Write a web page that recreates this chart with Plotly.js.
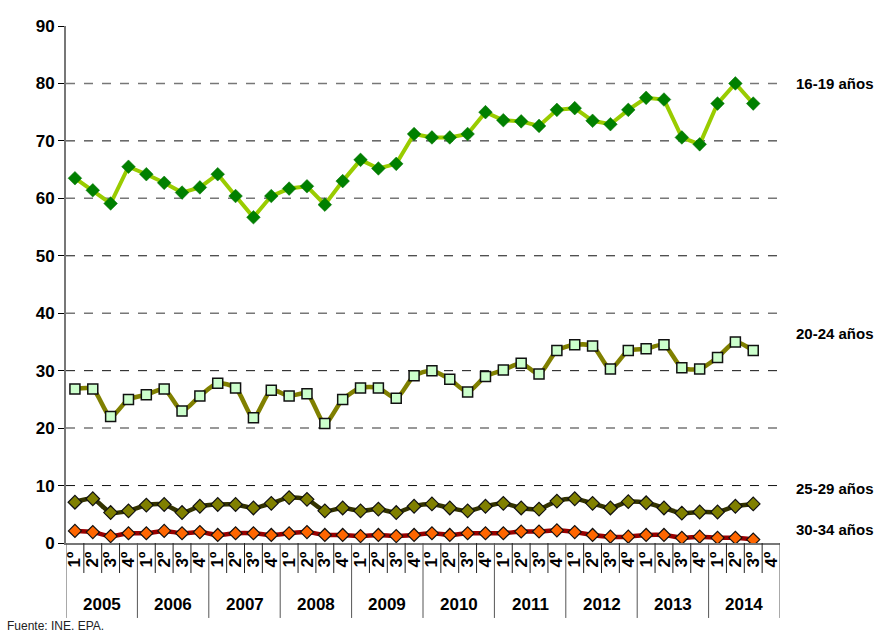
<!DOCTYPE html>
<html>
<head>
<meta charset="utf-8">
<script src="https://cdn.plot.ly/plotly-3.0.1.min.js"></script>
<style>
html,body{margin:0;padding:0;background:#fff;}
#chart{width:893px;height:635px;}
</style>
</head>
<body>
<div id="chart"></div>
<script>
const years = ["2005","2006","2007","2008","2009","2010","2011","2012","2013","2014"];
const quarters = ["1º","2º","3º","4º"];
const seriesNames = ["16-19 años","20-24 años","25-29 años","30-34 años"];

const s1619 = [63.5,61.4,59.1,65.5,64.2,62.7,61.0,61.9,64.2,60.4,56.7,60.4,61.7,62.1,58.9,63.0,66.7,65.2,66.0,71.2,70.6,70.6,71.2,75.0,73.6,73.4,72.6,75.4,75.7,73.5,72.9,75.4,77.5,77.2,70.6,69.4,76.5,80.0,76.5];
const s2024 = [26.8,26.8,22.0,25.0,25.8,26.8,23.0,25.6,27.8,27.0,21.8,26.6,25.6,26.0,20.8,25.0,27.0,27.0,25.2,29.1,30.0,28.5,26.3,29.0,30.1,31.3,29.4,33.5,34.5,34.3,30.3,33.5,33.8,34.5,30.5,30.3,32.3,35.0,33.5];
const s2529 = [7.1,7.7,5.3,5.6,6.6,6.7,5.3,6.4,6.7,6.7,6.1,6.9,7.9,7.6,5.6,6.1,5.6,5.9,5.3,6.4,6.8,6.1,5.6,6.4,6.9,6.1,5.9,7.3,7.7,6.9,6.1,7.2,7.0,6.1,5.2,5.4,5.4,6.4,6.8];
const s3034 = [2.1,1.9,1.2,1.7,1.7,2.1,1.7,1.9,1.4,1.7,1.7,1.4,1.7,1.9,1.4,1.4,1.2,1.4,1.2,1.4,1.7,1.4,1.7,1.7,1.7,2.0,2.0,2.2,1.9,1.4,1.1,1.1,1.4,1.4,0.9,1.1,0.9,0.9,0.6];
const labelY = [80, 36.5, 9.5, 2.3];
const yTicks = [0,10,20,30,40,50,60,70,80,90];

const nCat = years.length * quarters.length;
const catIdx = Array.from({length: nCat}, (_, i) => i);
const catText = catIdx.map(i => "<b>" + quarters[i % 4] + "</b>");
const idx = arr => arr.map((_, i) => i);

const FONT = "Liberation Sans, Arial, sans-serif";

const traces = [
  {x: idx(s1619), y: s1619, name: seriesNames[0], mode: "lines+markers",
   line: {color: "#99cc00", width: 4},
   marker: {symbol: "diamond", size: 10.5, color: "#008000", line: {color: "#007000", width: 0.5}}},
  {x: idx(s2024), y: s2024, name: seriesNames[1], mode: "lines+markers",
   line: {color: "#808000", width: 4.5, shape: "spline", smoothing: 0.7},
   marker: {symbol: "square", size: 10, color: "#ccffcc", line: {color: "#111", width: 1.5}}},
  {x: idx(s2529), y: s2529, name: seriesNames[2], mode: "lines+markers",
   line: {color: "#333300", width: 4.5, shape: "spline", smoothing: 0.7},
   marker: {symbol: "diamond", size: 10.5, color: "#808000", line: {color: "#111", width: 1.2}}},
  {x: idx(s3034), y: s3034, name: seriesNames[3], mode: "lines+markers",
   line: {color: "#990000", width: 4.5, shape: "spline", smoothing: 0.7},
   marker: {symbol: "diamond", size: 10, color: "#ff6600", line: {color: "#111", width: 1.2}}}
];

const shapes = [];
yTicks.filter(v => v > 0 && v < 90).forEach((v, k) => {
  shapes.push({type: "line", xref: "paper", yref: "y", x0: 0, x1: 1, y0: v, y1: v,
    line: {color: (k % 2 === 0) ? "#111" : "#777", width: (k % 2 === 0) ? 1 : 1.5, dash: "dash"}, layer: "below"});
});
for (let i = 0; i <= nCat; i++) {
  const isYear = (i % 4 === 0);
  shapes.push({type: "line", xref: "x", yref: "paper", x0: i - 0.5, x1: i - 0.5,
    y0: 0, y1: isYear ? -0.145 : -0.058, line: {color: isYear ? "#555" : "#222", width: 1}});
}

const annotations = [];
years.forEach((yr, k) => {
  annotations.push({xref: "x", yref: "paper", x: k * 4 + 1.5, y: -0.118, text: "<b>" + yr + "</b>",
    showarrow: false, font: {family: FONT, size: 17, color: "#000"}, xanchor: "center", yanchor: "middle"});
});
seriesNames.forEach((nm, k) => {
  annotations.push({xref: "paper", yref: "y", x: 1.02, y: labelY[k], text: "<b>" + nm + "</b>",
    showarrow: false, font: {family: FONT, size: 15, color: "#000"}, xanchor: "left", yanchor: "middle"});
});
annotations.push({xref: "paper", yref: "paper", x: -0.085, y: -0.178, text: "Fuente: INE. EPA.",
  showarrow: false, font: {family: FONT, size: 12, color: "#222"}, xanchor: "left", yanchor: "bottom"});

const layout = {
  width: 893, height: 635,
  margin: {l: 66, r: 113, t: 26, b: 92},
  paper_bgcolor: "#fff", plot_bgcolor: "#fff",
  showlegend: false,
  font: {family: FONT, color: "#000"},
  xaxis: {
    range: [-0.5, nCat - 0.5], tickmode: "array", tickvals: catIdx, ticktext: catText,
    tickangle: -90, ticks: "", showgrid: false, zeroline: false,
    showline: true, linecolor: "#777", linewidth: 2,
    tickfont: {family: FONT, size: 17, color: "#000"}
  },
  yaxis: {
    range: [0, 90], tickmode: "array", tickvals: yTicks,
    showgrid: false, zeroline: false, showline: true, linecolor: "#777", linewidth: 2,
    ticks: "outside", ticklen: 6, tickcolor: "#000", tickwidth: 1,
    tickfont: {family: FONT, size: 17, color: "#000", weight: "bold"}
  },
  shapes: shapes,
  annotations: annotations
};

Plotly.newPlot("chart", traces, layout, {staticPlot: true, displayModeBar: false});
</script>
</body>
</html>
